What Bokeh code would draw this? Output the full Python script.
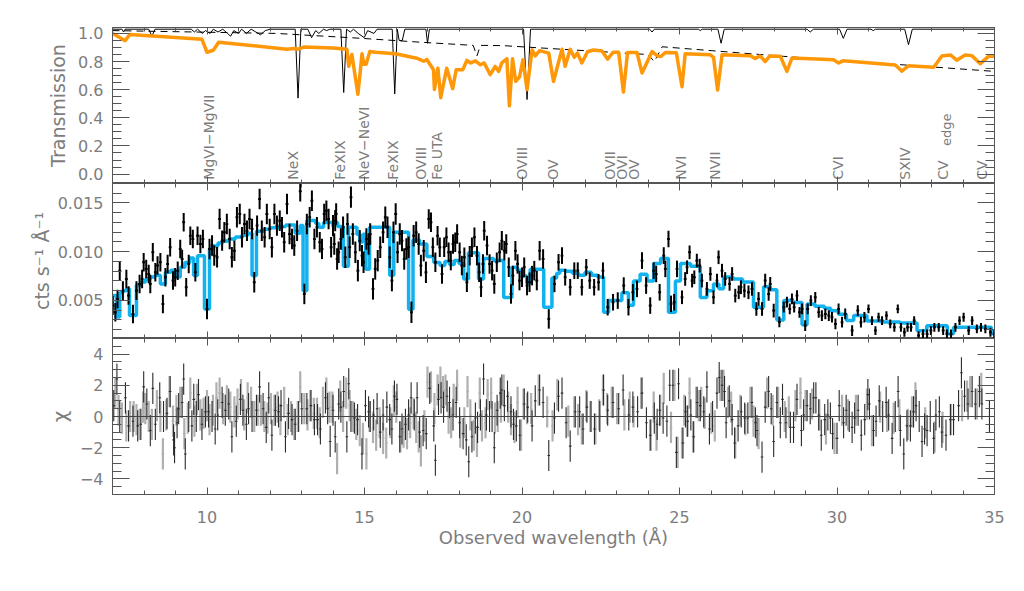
import numpy as np
from bokeh.plotting import figure
from bokeh.layouts import column
from bokeh.models import Range1d, LinearAxis, Span, FixedTicker, CustomJSTickFormatter
from bokeh.embed import file_html
from bokeh.resources import INLINE
from bokeh.core.properties import value

# ---------------- top panel: transmission ----------------
TBLACK_WL = [7.0, 7.3, 7.35, 7.4, 8.15, 8.25, 8.35, 9.5, 9.6, 9.7,
             9.85, 9.95, 10.1, 10.2, 10.35, 10.5, 10.65, 10.75, 10.85, 11.0,
             11.1, 11.25, 11.4, 11.55, 11.7, 11.85, 12.0, 12.8, 12.89, 12.98,
             13.2, 13.32, 13.45, 13.55, 13.7, 13.8, 13.9, 14.25, 14.34, 14.43,
             14.55, 14.65, 14.8, 14.99, 15.1, 15.3, 15.4, 15.88, 15.96, 16.04,
             16.1, 16.2, 16.28, 16.95, 17.0, 17.06, 20.05, 20.16, 20.27, 24.05,
             24.13, 24.2, 25.6, 25.66, 25.72, 26.22, 26.32, 26.42, 29.05, 29.15,
             29.25, 30.08, 30.2, 30.32, 31.08, 31.15, 31.22, 32.15, 32.27, 32.39,
             35.0]
TBLACK_T = [1.03, 1.03, 1.01, 1.03, 1.03, 0.98, 1.03, 1.03, 1.01, 1.03,
            1.0, 1.02, 1.0, 1.03, 1.01, 1.03, 1.0, 0.98, 1.02, 1.0,
            1.03, 1.0, 1.03, 1.01, 0.99, 1.02, 1.03, 1.03, 0.54, 1.03,
            1.03, 0.97, 1.02, 1.0, 1.03, 1.02, 1.03, 1.03, 0.58, 1.03,
            1.01, 1.03, 1.0, 0.97, 1.02, 1.0, 1.03, 1.03, 0.57, 1.03,
            0.95, 0.95, 1.03, 1.03, 0.93, 1.03, 1.03, 0.53, 1.03, 1.03,
            1.01, 1.03, 1.03, 1.02, 1.03, 1.03, 0.93, 1.03, 1.03, 1.01,
            1.03, 1.03, 0.965, 1.03, 1.03, 1.02, 1.03, 1.03, 0.92, 1.03,
            1.03]

TDASH_WL = [7.0, 12.2, 14.9, 16.8, 18.45, 18.57, 18.68, 19.4, 24.0, 24.2, 24.45, 28.3, 35.0]
TDASH_T = [1.02, 1.0, 0.965, 0.937, 0.915, 0.84, 0.915, 0.913, 0.85, 0.80, 0.905, 0.837, 0.73]

TORANGE_WL = [7.0, 7.12, 7.4, 7.55, 9.84, 10.0, 10.2, 10.37, 12.54, 12.75,
              12.89, 13.07, 14.0, 14.44, 14.5, 14.6, 14.79, 14.87, 14.92, 14.98,
              15.05, 15.17, 15.35, 15.98, 16.66, 16.88, 16.98, 17.19, 17.22, 17.33,
              17.42, 17.61, 17.8, 17.91, 18.12, 18.25, 18.37, 18.52, 18.68, 18.8,
              18.99, 19.15, 19.26, 19.36, 19.52, 19.6, 19.7, 19.8, 19.92, 20.03,
              20.16, 20.32, 20.42, 20.56, 20.85, 21.0, 21.27, 21.37, 21.53, 21.66,
              21.76, 21.9, 22.08, 22.27, 22.54, 22.72, 22.89, 23.07, 23.22, 23.35,
              23.65, 23.81, 24.13, 24.3, 24.41, 24.55, 24.9, 25.08, 25.18, 25.98,
              26.08, 26.21, 26.35, 27.25, 27.4, 27.56, 27.72, 27.87, 28.2, 28.41,
              28.57, 29.89, 30.05, 30.2, 31.85, 32.06, 32.27, 33.07, 33.33, 33.6,
              33.8, 34.07, 34.28, 34.55, 34.81, 35.0]
TORANGE_T = [1.0, 0.985, 0.948, 0.993, 0.958, 0.866, 0.88, 0.937, 0.888, 0.893,
             0.888, 0.903, 0.896, 0.888, 0.766, 0.85, 0.567, 0.74, 0.855, 0.78,
             0.78, 0.871, 0.866, 0.855, 0.824, 0.802, 0.815, 0.742, 0.602, 0.753,
             0.543, 0.753, 0.607, 0.742, 0.742, 0.808, 0.79, 0.805, 0.777, 0.79,
             0.707, 0.765, 0.73, 0.79, 0.82, 0.485, 0.82, 0.66, 0.69, 0.812,
             0.6, 0.883, 0.84, 0.878, 0.86, 0.658, 0.887, 0.766, 0.887, 0.83,
             0.86, 0.79, 0.87, 0.882, 0.875, 0.817, 0.866, 0.866, 0.583, 0.864,
             0.864, 0.719, 0.871, 0.84, 0.836, 0.864, 0.862, 0.621, 0.855, 0.848,
             0.83, 0.597, 0.848, 0.842, 0.822, 0.84, 0.8, 0.84, 0.838, 0.73,
             0.825, 0.812, 0.79, 0.805, 0.775, 0.732, 0.77, 0.76, 0.84, 0.847,
             0.81, 0.847, 0.842, 0.785, 0.837, 0.837]

LINE_WL = [10.05, 12.73, 14.23, 14.97, 15.92, 16.79, 17.30, 20.0, 20.98, 22.78,
           23.17, 23.57, 25.06, 26.14, 30.03, 32.17, 33.38, 34.60]
LINE_NAMES = ["MgVI\u2212MgVII", "NeX", "FeXIX", "NeV\u2212NeVI", "FeXIX", "OVIII", "Fe UTA",
              "OVIII", "OV", "OVII", "OVI", "OV", "NVI", "NVII", "CVI", "SXIV", "CV", "CV"]
EDGE_WL = [33.49]
EDGE_NAME = ["edge"]

# ---------------- middle panel: spectrum (flux in 1e-3 cts/s/A) ----------------
DATA_WL_A = [7.01, 7.09, 7.16, 7.23, 7.33, 7.44, 7.51, 7.65, 7.76, 7.86,
             7.94, 7.99, 8.07, 8.15, 8.20, 8.28, 8.36, 8.43, 8.52, 8.60,
             8.68, 8.75, 8.83, 8.92, 8.99, 9.07, 9.15, 9.21, 9.26, 9.34,
             9.42, 9.47, 9.55, 9.63, 9.70, 9.79, 9.87, 10.00, 10.08, 10.16,
             10.23, 10.32, 10.40, 10.48, 10.55, 10.63, 10.72, 10.79, 10.87, 10.95,
             11.04, 11.11, 11.19, 11.27, 11.35, 11.43, 11.50, 11.59, 11.67, 11.74,
             11.83, 11.90, 11.99, 12.06, 12.14, 12.22, 12.31, 12.38, 12.45, 12.54,
             12.62, 12.70, 12.77, 12.86, 12.96, 13.09, 13.17, 13.26, 13.33, 13.41,
             13.49, 13.58, 13.65, 13.72, 13.79, 13.86, 13.94, 14.00, 14.07, 14.13]
DATA_FLUX_A = [4.48, 3.79, 5.16, 8.06, 6.01, 7.21, 5.50, 3.62, 6.01, 6.70,
               7.21, 8.92, 8.24, 7.72, 6.70, 9.94, 7.89, 8.58, 8.92, 4.65,
               7.38, 8.75, 10.46, 7.04, 7.38, 8.06, 10.29, 9.26, 13.02, 6.36,
               8.75, 11.65, 11.31, 7.89, 11.65, 10.80, 11.31, 4.13, 10.29, 10.63,
               9.60, 9.43, 13.36, 11.14, 11.99, 12.85, 11.31, 9.43, 10.11, 13.53,
               13.87, 11.48, 12.85, 12.16, 13.36, 12.34, 6.87, 12.68, 15.41, 12.16,
               11.48, 13.87, 12.34, 10.46, 13.87, 12.68, 13.19, 12.51, 10.97, 14.90,
               11.82, 11.31, 10.63, 12.16, 16.20, 5.67, 12.85, 13.53, 15.24, 11.31,
               12.51, 10.97, 10.29, 13.87, 14.21, 13.36, 10.46, 12.68, 13.19, 9.26]
DATA_WL_B = [14.04, 14.10, 14.18, 14.25, 14.32, 14.39, 14.46, 14.53, 14.57, 14.63,
             14.71, 14.79, 14.85, 14.92, 14.97, 15.06, 15.13, 15.18, 15.27, 15.34,
             15.42, 15.50, 15.59, 15.66, 15.73, 15.80, 15.87, 15.92, 15.99, 16.05,
             16.12, 16.19, 16.26, 16.33, 16.40, 16.49, 16.56, 16.64, 16.72, 16.79,
             16.88, 16.95, 17.04, 17.11, 17.17, 17.25, 17.32, 17.39, 17.46, 17.53,
             17.60, 17.67, 17.74, 17.81, 17.88, 17.94, 18.02, 18.09, 18.17, 18.25,
             18.34, 18.41, 18.49, 18.57, 18.64, 18.70, 18.76, 18.80, 18.89, 18.97,
             19.05, 19.12, 19.20, 19.29, 19.36, 19.44, 19.50, 19.58, 19.65, 19.71,
             19.79, 19.86, 19.92, 20.00, 20.07, 20.16, 20.24, 20.32, 20.39, 20.47,
             20.56, 20.67, 20.85, 21.03, 21.16]
DATA_FLUX_B = [10.80, 13.87, 9.94, 11.31, 12.51, 9.43, 12.85, 10.46, 15.60, 11.82,
               9.94, 8.06, 11.14, 9.60, 8.92, 11.31, 10.80, 11.82, 6.19, 8.24,
               9.09, 10.46, 11.99, 13.53, 12.51, 9.43, 7.04, 11.99, 13.87, 9.94,
               11.82, 11.14, 9.26, 10.29, 10.46, 3.79, 11.65, 11.99, 10.80, 8.58,
               10.11, 7.89, 13.36, 13.02, 10.46, 8.92, 11.65, 10.46, 7.72, 10.46,
               11.48, 9.94, 9.09, 10.80, 10.97, 11.82, 9.94, 8.58, 9.43, 6.87,
               9.60, 10.46, 11.48, 9.60, 7.89, 6.36, 8.75, 12.16, 10.63, 8.75,
               8.06, 6.70, 8.92, 9.94, 11.14, 10.11, 10.80, 8.41, 5.67, 7.55,
               10.11, 8.75, 7.04, 7.38, 8.41, 6.53, 6.87, 7.55, 8.06, 7.04,
               10.11, 9.26, 3.11, 6.70, 8.92]
DATA_WL_C = [21.27, 21.37, 21.53, 21.66, 21.77, 21.90, 22.04, 22.15, 22.29, 22.43,
             22.57, 22.72, 22.89, 23.04, 23.23, 23.38, 23.52, 23.65, 23.81, 23.94,
             24.07, 24.18, 24.26, 24.37, 24.50, 24.55, 24.65, 24.73, 24.83, 24.92,
             25.08, 25.18, 25.24, 25.32, 25.40, 25.47, 25.55, 25.64, 25.71, 25.87,
             25.98, 26.08, 26.19, 26.24, 26.35, 26.45, 26.59, 26.67, 26.77, 26.88,
             26.95, 27.06, 27.19, 27.30, 27.44, 27.51, 27.62, 27.72, 27.83, 27.88,
             27.99, 28.17]
DATA_FLUX_C = [9.60, 7.38, 6.36, 8.06, 8.06, 6.36, 8.41, 7.04, 6.36, 6.87,
               8.06, 4.31, 4.82, 4.99, 6.53, 4.31, 5.84, 6.19, 9.09, 6.53,
               4.48, 8.06, 7.72, 5.84, 9.60, 8.24, 11.31, 4.65, 4.82, 8.24,
               5.33, 7.21, 8.41, 9.94, 7.04, 7.38, 9.09, 8.58, 7.04, 6.19,
               7.72, 5.33, 7.04, 9.43, 8.06, 7.21, 6.70, 7.72, 5.50, 5.84,
               6.36, 6.01, 5.84, 6.19, 4.13, 5.16, 4.13, 7.04, 5.67, 6.70,
               3.96, 2.80]
DATA_WL_D = [28.31, 28.41, 28.50, 28.57, 28.64, 28.73, 28.81, 28.89, 28.99, 29.07,
             29.17, 29.31, 29.42, 29.52, 29.63, 29.74, 29.84, 29.95, 30.05, 30.16,
             30.26, 30.48, 30.66, 30.76, 30.87, 31.00, 31.11, 31.22, 31.32, 31.43,
             31.57, 31.69, 31.82, 31.93, 32.03, 32.14, 32.24, 32.35, 32.45, 32.59,
             32.73, 32.86, 32.98, 33.09, 33.23, 33.37, 33.49, 33.62, 33.76, 33.89,
             34.02, 34.18, 34.29, 34.44, 34.57, 34.71, 34.87, 34.99]
DATA_FLUX_D = [4.31, 4.82, 4.13, 5.16, 4.31, 5.50, 3.79, 4.13, 2.43, 4.13,
               4.99, 5.33, 3.79, 3.45, 3.62, 3.45, 3.28, 2.60, 4.13, 2.77,
               3.62, 1.91, 3.96, 2.77, 3.28, 4.13, 2.94, 1.91, 3.28, 2.94,
               3.45, 2.60, 2.25, 4.13, 2.25, 1.74, 2.25, 2.25, 2.94, 1.40,
               1.57, 1.57, 1.91, 2.25, 2.25, 1.91, 1.57, 1.57, 2.25, 2.94,
               3.28, 1.91, 2.94, 2.08, 2.25, 2.08, 1.74, 1.57]
# 1-sigma errors (1e-3) by wavelength band
ERR_EDGES = [7, 10, 14, 17, 21, 25, 28, 31, 35]
ERR_MILLI = [0.95, 1.05, 1.1, 1.0, 0.85, 0.7, 0.55, 0.45]
BIN_HALF = 0.045

MODEL_WL = [7.0, 7.12, 7.23, 7.33, 7.44, 7.54, 7.76, 7.9, 8.05, 8.2,
            8.35, 8.52, 8.68, 8.85, 9.0, 9.15, 9.3, 9.45, 9.575, 9.7,
            9.92, 10.08, 10.2, 10.35, 10.5, 10.7, 10.9, 11.1, 11.3, 11.43,
            11.57, 11.8, 12.0, 12.3, 12.5, 12.8, 12.96, 13.05, 13.17, 13.45,
            13.55, 13.7, 14.15, 14.33, 14.49, 14.76, 14.85, 14.95, 15.04, 15.16,
            15.8, 15.93, 16.4, 16.54, 16.75, 16.98, 17.2, 17.4, 17.55, 17.7,
            17.85, 18.0, 18.15, 18.3, 18.62, 18.78, 19.1, 19.42, 19.68, 19.85,
            20.0, 20.15, 20.26, 20.69, 20.95, 21.1, 21.2, 21.4, 21.6, 21.8,
            22.0, 22.2, 22.4, 22.59, 22.75, 23.17, 23.38, 23.54, 23.75, 23.97,
            24.18, 24.4, 24.65, 24.87, 25.03, 25.35, 25.66, 25.87, 26.08, 26.25,
            26.4, 26.7, 27.0, 27.35, 27.67, 27.88, 28.09, 28.31, 28.6, 28.89,
            29.05, 29.3, 29.6, 29.8, 30.05, 30.3, 30.53, 30.95, 31.4, 32.0,
            32.54, 32.85, 33.5, 33.7, 34.9]
MODEL_FLUX = [5.5, 3.3, 5.8, 6.0, 6.2, 3.45, 6.6, 6.9, 7.2, 7.4,
              7.6, 6.7, 7.9, 8.1, 7.4, 8.4, 8.9, 9.35, 7.55, 9.6,
              4.13, 10.3, 10.6, 10.9, 11.1, 11.3, 11.5, 11.7, 11.9, 7.55,
              12.1, 12.3, 12.45, 12.6, 12.75, 11.9, 12.7, 6.0, 13.2, 12.9,
              12.5, 13.0, 12.6, 8.5, 12.5, 11.8, 11.0, 11.8, 8.2, 12.5,
              7.6, 12.0, 4.1, 11.2, 10.8, 9.5, 8.9, 8.6, 9.0, 8.7,
              9.1, 8.8, 7.2, 9.9, 7.2, 9.3, 9.1, 5.3, 8.4, 8.1,
              7.5, 6.8, 8.2, 4.3, 7.3, 7.8, 8.1, 8.0, 7.8, 7.6,
              7.9, 7.6, 7.4, 3.8, 5.0, 5.8, 4.5, 7.0, 7.7, 7.0,
              8.8, 9.3, 3.8, 7.0, 8.8, 8.5, 5.3, 6.0, 6.7, 6.2,
              7.4, 7.2, 6.9, 4.3, 6.4, 6.1, 3.0, 5.0, 4.8, 2.5,
              4.65, 4.4, 4.2, 3.95, 3.6, 2.95, 3.45, 2.9, 2.8, 2.7,
              1.9, 2.4, 1.6, 2.25, 1.6]

# ---------------- bottom panel: residuals (chi) ----------------
RES1_WL = [7.04, 7.14, 7.23, 7.41, 7.51, 7.65, 7.80, 7.90, 7.99, 8.09,
           8.20, 8.28, 8.36, 8.50, 8.62, 8.73, 8.83, 8.94, 8.97, 9.05,
           9.10, 9.21, 9.26, 9.31, 9.42, 9.52, 9.58, 9.66, 9.73, 9.84,
           9.95, 10.05, 10.16, 10.26, 10.34, 10.48, 10.58, 10.69, 10.79, 10.93,
           11.06, 11.14, 11.25, 11.32, 11.43, 11.57, 11.67, 11.78, 11.88, 11.96,
           12.06, 12.17, 12.27, 12.35, 12.49, 12.59, 12.70, 12.80, 12.91, 13.01,
           13.17, 13.30, 13.41, 13.51, 13.60, 13.76, 13.83, 13.91, 14.00, 14.07,
           14.18, 14.25, 14.34, 14.44, 14.50, 14.57, 14.68, 14.78, 14.92, 15.03,
           15.13, 15.18, 15.29, 15.40, 15.50, 15.59, 15.71, 15.80, 15.87, 15.95,
           16.03, 16.12,
           16.19, 16.30, 16.40, 16.48, 16.58, 16.67, 16.75, 16.86, 16.96, 17.07,
           17.20, 17.25, 17.35, 17.43, 17.51, 17.62, 17.70, 17.81, 17.91, 18.02,
           18.13, 18.23, 18.31, 18.41, 18.52, 18.59, 18.68, 18.78, 18.87, 18.97,
           19.05, 19.12, 19.21, 19.31, 19.36, 19.44, 19.54, 19.65, 19.73, 19.82,
           19.93, 20.07, 20.18, 20.32, 20.42, 20.56, 20.67, 20.85, 21.03, 21.16,
           21.27, 21.40, 21.53, 21.69, 21.83, 21.94, 22.06, 22.19, 22.30, 22.47,
           22.59, 22.72, 22.89, 23.07, 23.21, 23.39, 23.52, 23.67, 23.81, 23.95,
           24.07, 24.20, 24.29, 24.37, 24.48, 24.60, 24.69, 24.79, 24.90, 24.97,
           25.11, 25.19, 25.26, 25.36, 25.45,
           25.56, 25.66, 25.77, 25.87, 25.95, 26.05, 26.19, 26.26, 26.35, 26.43,
           26.48, 26.58, 26.67, 26.75, 26.86, 26.96, 27.07, 27.17, 27.30, 27.41,
           27.46, 27.62, 27.72, 27.83, 27.91, 27.99, 28.09, 28.20, 28.27, 28.38,
           28.52, 28.62, 28.73, 28.87, 28.94, 29.05, 29.15, 29.26, 29.33, 29.42,
           29.50, 29.61, 29.71, 29.79, 29.86, 30.00, 30.07, 30.21, 30.29, 30.39,
           30.48, 30.56, 30.67, 30.77, 30.88, 30.98, 31.03, 31.16, 31.24, 31.34,
           31.45, 31.56, 31.64, 31.75, 31.85, 31.94, 32.01, 32.12, 32.22, 32.33,
           32.43, 32.51, 32.61, 32.70, 32.78, 32.86, 32.96, 33.07, 33.14, 33.25,
           33.33, 33.46, 33.60, 33.70, 33.86, 33.95, 34.05, 34.16, 34.29, 34.39,
           34.52, 34.60, 34.84]
RES1_CHI = [0.7, 2.4, 0.0, 1.2, -0.6, -0.3, -0.6, -0.5, 1.9, 0.8,
            -0.9, 1.8, -0.5, 1.2, 0.0, 0.2, 1.6, -1.5, -2.0, -0.4,
            0.5, 0.9, 2.4, -2.4, 0.0, -0.6, 1.1, 0.0, 1.4, -0.5,
            0.3, 0.3, 0.0, -0.8, 0.1, 0.9, 0.4, 0.8, -1.3, -0.3,
            1.1, 0.4, -0.5, 0.5, 0.0, 0.4, 1.9, 0.5, -0.7, 1.2,
            -1.2, 0.4, 0.3, 0.7, -1.3, 0.2, -0.2, -0.5, 0.0, 0.5,
            0.5, 0.7, -0.2, -0.2, -0.8, 1.2, 0.5, -1.6, 0.4, -1.3,
            0.8, 0.6, 1.6, -1.3, 2.1, 0.0, -0.1, -0.2, -2.4, 0.7,
            0.3, 0.0, 0.1, 0.5, -1.0, 0.1, 0.6, -0.2, -0.8, 1.3,
            1.1, -1.3,
            -0.8, -0.5, 0.1, 1.2, 0.1, 1.2, -1.0, -0.9, -1.1, 1.8,
            -0.6, -2.8, 1.1, 1.2, 0.6, 1.3, 0.9, 0.1, 0.9, -0.4,
            -1.1, -1.5, -2.9, -1.3, -0.1, -0.7, 0.1, 2.4, 0.1, 0.0,
            0.0, -2.0, 0.4, 1.5, 1.7, 0.7, 1.3, 0.3, -0.5, -0.6,
            -1.2, 0.8, 0.6, -0.6, 1.0, 1.7, 0.9, -2.5, -0.1, 1.3,
            1.5, -0.4, -1.9, 0.3, 0.3, -0.8, 0.6, 0.0, -0.8, 0.0,
            1.7, 0.4, 0.9, 0.5, 1.7, 0.1, 0.6, 0.3, 1.5, -0.4,
            -1.2, -0.1, -0.5, 0.4, -0.1, -0.3, 2.0, 2.0, -2.3, 2.1,
            -1.7, 0.3, -0.3, 0.1, -1.3,
            0.9, 0.7, 0.3, 1.9, -0.8, 0.0, 1.5, 2.5, 2.0, 1.6,
            -0.4, 1.0, -0.2, -1.7, -0.6, 0.3, -0.1, -0.1, 0.9, -0.4,
            -0.9, -2.6, 0.6, 1.6, 0.5, -1.6, 0.9, -0.4, 1.1, -0.4,
            -0.7, -0.7, 1.1, -0.9, 0.1, 0.7, 0.5, 1.2, 1.2, 0.1,
            -1.2, -0.2, 0.1, -0.1, -1.1, -1.4, 0.7, -0.4, 0.4, 0.0,
            -0.7, -0.1, 0.4, -1.2, -0.2, 1.4, 0.8, -0.9, -0.3, 1.0,
            0.0, 0.9, 0.1, -1.4, 0.0, 1.6, -0.9, -2.4, -0.6, -0.6,
            0.3, 0.7, 0.0, -1.6, -0.8, -0.9, 0.0, -1.4, 0.1, 0.3,
            -1.0, -1.2, -0.2, -0.2, 0.7, 2.8, 1.3, 0.8, 1.6, 0.8,
            1.6, 0.8, 0.0]

RES2_WL = [6.98, 7.09, 7.19, 7.30, 7.44, 7.56, 7.67, 7.76, 7.86, 7.97,
           8.04, 8.15, 8.25, 8.41, 8.52, 8.60, 8.71, 8.81, 8.92, 9.03,
           9.15, 9.28, 9.39, 9.47, 9.60, 9.68, 9.79, 9.89, 10.00, 10.08,
           10.19, 10.30, 10.40, 10.51, 10.63, 10.74, 10.87, 10.97, 11.08, 11.18,
           11.29, 11.40, 11.50, 11.61, 11.71, 11.82, 11.92, 12.03, 12.14, 12.24,
           12.33, 12.45, 12.56, 12.67, 12.77, 12.88, 12.96, 13.09, 13.19, 13.28,
           13.39, 13.49, 13.58, 13.68, 13.79, 13.89, 13.98, 14.13, 14.23, 14.32,
           14.42, 14.53, 14.63, 14.74, 14.85, 14.95, 15.06, 15.16, 15.27, 15.37,
           15.48, 15.59, 15.69, 15.82, 15.93, 16.01, 16.14,
           16.24, 16.35, 16.45, 16.56, 16.64, 16.72, 16.79, 16.90, 17.00, 17.11,
           17.22, 17.32, 17.41, 17.49, 17.57, 17.67, 17.75, 17.83, 17.94, 18.04,
           18.17, 18.27, 18.36, 18.47, 18.57, 18.66, 18.73, 18.84, 18.91, 19.02,
           19.14, 19.23, 19.33, 19.42, 19.56, 19.65, 19.76, 19.86, 19.97, 20.05,
           20.16, 20.29, 20.53, 21.66, 21.90, 22.04, 22.17, 22.33, 22.57, 22.70,
           23.25, 23.42, 23.54, 23.78, 24.09, 24.18, 24.27, 24.39, 24.50, 24.73,
           24.84, 24.94, 25.08, 25.15, 25.24, 25.32, 25.43, 25.53, 25.61,
           20.80, 20.97, 21.12, 21.47, 21.78, 22.45, 22.85, 23.02,
           25.69, 25.80, 26.01, 26.12, 26.30, 26.40, 26.54, 26.64, 26.77, 26.93,
           27.09, 27.25, 27.35, 27.51, 27.78, 27.96, 28.13, 28.34, 28.47, 28.68,
           28.84, 29.00, 29.21, 29.44, 29.65, 29.92, 30.16, 30.35, 30.60, 30.95,
           31.11, 31.37, 31.59, 31.80, 31.98, 32.25, 32.38, 32.49, 32.80, 33.10,
           33.35, 33.62, 33.97, 34.13, 34.23, 34.44, 34.58]
RES2_CHI = [0.2, 1.5, 0.4, -0.1, -0.6, 0.0, 0.0, -0.2, -0.5, 0.6,
            0.5, 0.0, -0.5, 0.7, 0.0, -2.4, 0.1, 1.6, -0.3, 0.4,
            0.9, -1.1, -0.1, 1.5, -0.3, 1.1, 0.1, 0.2, 0.7, -0.2,
            0.4, 1.2, 1.5, 0.5, 1.0, 0.6, 0.3, 0.8, 1.4, 0.1,
            1.2, 0.9, 0.0, 0.4, 0.4, 0.0, -0.1, 0.5, 0.4, 0.6,
            -0.2, 0.9, -0.2, 0.0, -0.5, 0.0, 1.9, 0.5, 0.1, 0.7,
            0.2, 0.2, -0.4, 0.9, 1.5, 0.6, 0.6, -2.7, 1.3, 0.0,
            1.5, 0.7, 0.0, -0.5, -0.9, -1.4, -2.4, 0.0, -0.7, -1.2,
            -0.4, -1.4, -1.7, -0.4, 1.0, 0.6, -1.3,
            -1.0, -1.1, -0.4, 0.2, -0.7, -1.3, -2.2, -0.6, 2.2, 1.9,
            0.5, 1.7, 2.2, 1.6, 1.7, -0.1, -0.4, 1.1, 2.0, -1.0,
            -0.4, 1.6, 0.1, -1.2, -1.6, 1.5, -0.6, -0.4, 1.4, 1.5,
            -0.1, 0.0, 0.6, 1.7, 0.6, -0.2, -0.7, 0.9, -1.2, 0.8,
            0.5, 0.5, 1.7, 0.3, -0.8, 0.7, 0.0, -0.8, 1.7, 0.5,
            0.1, 0.6, 0.3, 1.5, -1.2, 0.6, -1.2, 0.4, 1.8, -0.7,
            2.0, -2.3, -1.7, 0.4, -0.3, 1.5, -1.3, 0.9, 0.7,
            0.3, -0.6, 1.4, -0.3, -0.2, 0.1, 0.9, 0.5,
            0.9, 0.2, -0.1, -0.6, 2.0, 2.0, 0.9, 0.6, -1.7, 0.4,
            -0.2, 0.9, -0.3, -1.1, 1.5, 0.4, 0.9, 0.0, 0.3, 0.7,
            1.5, 0.7, 0.8, 0.1, -0.8, -1.4, 0.4, 0.1, 0.4, 0.8,
            -0.9, 0.6, 0.0, -0.1, 0.1, -0.5, 0.3, 1.2, -0.4, -1.3,
            -0.7, -0.2, 0.7, 1.3, 1.6, 0.8, 1.8]
RES_SIGMA = 1.0

# ---------------- styling ----------------
FONT = "DejaVu Sans"
TXT = "#7d7d7d"
AXC = "#555555"
ORANGE = "#FF9808"
BLUE = "#12B2EE"
LEFT, RIGHT, FW = 112, 12, 882

XR = Range1d(7, 35)
X_TICKER = FixedTicker(ticks=[10, 15, 20, 25, 30, 35], minor_ticks=list(range(7, 36)))


def make_fig(h, yr, top=0, bottom=0):
    p = figure(frame_width=FW, frame_height=h, x_range=XR, y_range=yr,
               output_backend="svg", toolbar_location=None,
               min_border_left=LEFT, min_border_right=RIGHT,
               min_border_top=top, min_border_bottom=bottom,
               x_axis_location=None, y_axis_location=None)
    p.grid.visible = False
    p.outline_line_color = AXC
    p.outline_line_width = 1
    p.background_fill_color = "white"
    p.border_fill_color = "white"
    return p


def add_axis(p, side, ticker, fmt_code=None, label=None, major_in=7, minor_in=4,
             label_standoff=10, label_size="19px", tick_standoff=9):
    ax = LinearAxis(ticker=ticker)
    ax.axis_line_color = AXC
    ax.major_tick_line_color = AXC
    ax.minor_tick_line_color = AXC
    ax.major_tick_in = major_in
    ax.major_tick_out = 0
    ax.minor_tick_in = minor_in
    ax.minor_tick_out = 0
    if fmt_code is None:
        ax.formatter = CustomJSTickFormatter(code="return '';")
        ax.major_label_standoff = 0
        ax.major_label_text_font_size = "0px"
    else:
        ax.formatter = CustomJSTickFormatter(code=fmt_code)
        ax.major_label_standoff = tick_standoff
        ax.major_label_text_font = FONT
        ax.major_label_text_font_size = "16px"
        ax.major_label_text_color = TXT
    if label:
        ax.axis_label = label
        ax.axis_label_text_font = FONT
        ax.axis_label_text_font_size = label_size
        ax.axis_label_text_font_style = "normal"
        ax.axis_label_text_color = TXT
        ax.axis_label_standoff = label_standoff
    p.add_layout(ax, side)
    return ax


# ---- top panel ----
p1 = make_fig(156, Range1d(-0.067, 1.042), top=27, bottom=0)
yt1 = FixedTicker(ticks=[0.0, 0.2, 0.4, 0.6, 0.8, 1.0],
                  minor_ticks=[round(v, 2) for v in np.arange(0, 1.04, 0.05)])
add_axis(p1, "left", yt1, "return tick.toFixed(1);", "Transmission", 17, 9, label_standoff=6)
add_axis(p1, "right", yt1, None, None, 17, 9)
add_axis(p1, "above", X_TICKER, None)
add_axis(p1, "below", X_TICKER, None)
p1.line(TBLACK_WL, TBLACK_T, line_color="black", line_width=1)
p1.line(TDASH_WL, TDASH_T, line_color="black", line_width=1, line_dash="7 5")
p1.line(TORANGE_WL, TORANGE_T, line_color=ORANGE, line_width=3.5, line_join="round")
p1.text(x=LINE_WL, y=[-0.04] * len(LINE_WL), text=LINE_NAMES, angle=np.pi / 2,
        text_align="left", text_baseline="middle", text_font=value(FONT),
        text_font_size="14px", text_color=TXT)
p1.text(x=EDGE_WL, y=[0.2], text=EDGE_NAME, angle=np.pi / 2,
        text_align="left", text_baseline="middle", text_font=value(FONT),
        text_font_size="13px", text_color=TXT)

# ---- middle panel ----
p2 = make_fig(155, Range1d(0.0011, 0.0170), top=0, bottom=0)
yt2 = FixedTicker(ticks=[0.005, 0.010, 0.015],
                  minor_ticks=[round(v, 4) for v in np.arange(0.002, 0.0171, 0.001)])
add_axis(p2, "left", yt2, "return tick.toFixed(3);", "cts s\u207b\u00b9 \u00c5\u207b\u00b9", 17, 9,
         label_standoff=2)
add_axis(p2, "right", yt2, None, None, 17, 9)
add_axis(p2, "above", X_TICKER, None)
add_axis(p2, "below", X_TICKER, None)

wl = np.array(DATA_WL_A + DATA_WL_B + DATA_WL_C + DATA_WL_D)
flux = np.array(DATA_FLUX_A + DATA_FLUX_B + DATA_FLUX_C + DATA_FLUX_D) * 1e-3
err = np.array(ERR_MILLI)[np.clip(np.searchsorted(ERR_EDGES, wl, side="right") - 1, 0,
                                  len(ERR_MILLI) - 1)] * 1e-3
mwl = list(MODEL_WL) + [35.0]
mfl = (np.array(list(MODEL_FLUX) + [MODEL_FLUX[-1]]) * 1e-3).tolist()
p2.step(mwl, mfl, mode="after", line_color=BLUE, line_width=3.5)
p2.segment(x0=wl, y0=flux - err, x1=wl, y1=flux + err, line_color="black", line_width=2)
p2.segment(x0=wl - BIN_HALF, y0=flux, x1=wl + BIN_HALF, y1=flux, line_color="black", line_width=2)

# ---- bottom panel ----
p3 = make_fig(156, Range1d(-5, 5), top=0, bottom=40)
yt3 = FixedTicker(ticks=[-4, -2, 0, 2, 4], minor_ticks=[v / 2 for v in range(-10, 11)])
add_axis(p3, "left", yt3, "return tick < 0 ? '\u2212' + Math.abs(tick) : String(tick);",
         "\u03c7", 17, 9, label_standoff=5, label_size="20px")
add_axis(p3, "right", yt3, None, None, 17, 9)
add_axis(p3, "above", X_TICKER, None)
add_axis(p3, "below", X_TICKER, "return String(tick);", "Observed wavelength (\u00c5)",
         label_standoff=1, label_size="18px", tick_standoff=16)

p3.add_layout(Span(location=0, dimension="width", line_color="#444444", line_width=1))
r2w = np.array(RES2_WL)
r2c = np.array(RES2_CHI)
p3.segment(x0=r2w, y0=r2c - RES_SIGMA, x1=r2w, y1=r2c + RES_SIGMA, line_color="#b0b0b0", line_width=2.2)
p3.segment(x0=r2w - 0.04, y0=r2c, x1=r2w + 0.04, y1=r2c, line_color="#b0b0b0", line_width=1.5)
r1w = np.array(RES1_WL)
r1c = np.array(RES1_CHI)
p3.segment(x0=r1w, y0=r1c - RES_SIGMA, x1=r1w, y1=r1c + RES_SIGMA, line_color="#2a2a2a", line_width=1.1)
p3.segment(x0=r1w - 0.04, y0=r1c, x1=r1w + 0.04, y1=r1c, line_color="#2a2a2a", line_width=1.1)

layout = column(p1, p2, p3, spacing=0)
open("out.html", "w").write(file_html(layout, INLINE))
